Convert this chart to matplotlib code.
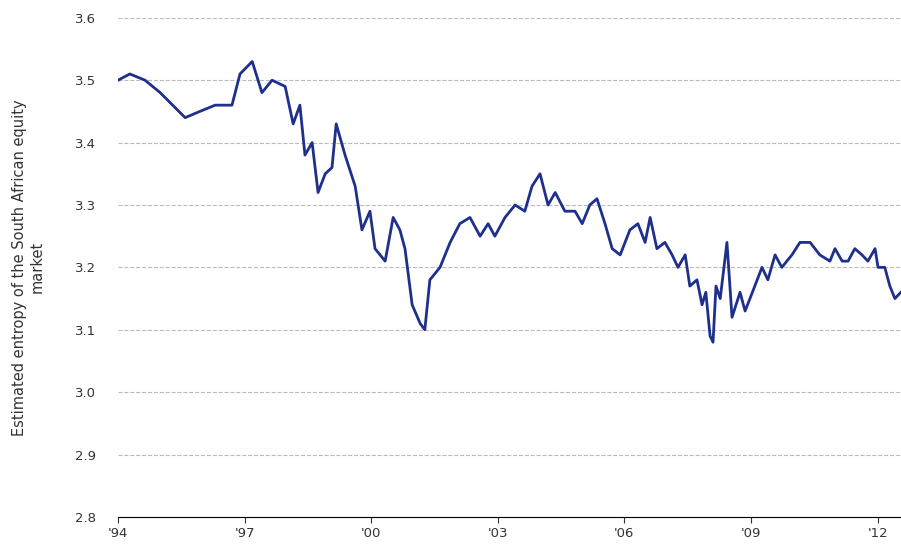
import matplotlib.pyplot as plt

years = [0, 0.28, 0.64, 1.0, 1.59, 1.94, 2.30, 2.70, 2.89, 3.18, 3.41, 3.65, 3.96, 4.15, 4.31, 4.43,
         4.60, 4.74, 4.91, 5.07, 5.17, 5.38, 5.62, 5.78, 5.97, 6.09, 6.33, 6.52, 6.68, 6.80, 6.97,
         7.16, 7.27, 7.39, 7.63, 7.87, 8.10, 8.34, 8.58, 8.77, 8.93, 9.17, 9.41, 9.64, 9.81, 10.0,
         10.19, 10.36, 10.59, 10.83, 11.0, 11.18, 11.35, 11.54, 11.71, 11.90, 12.13, 12.32, 12.49,
         12.61, 12.77, 12.96, 13.13, 13.27, 13.44, 13.55, 13.72, 13.84, 13.93, 14.03, 14.10, 14.17,
         14.27, 14.43, 14.55, 14.74, 14.86, 15.09, 15.26, 15.40, 15.57, 15.73, 15.97, 16.16, 16.40,
         16.63, 16.87, 16.99, 17.16, 17.30, 17.46, 17.63, 17.77, 17.94, 18.01, 18.17, 18.29, 18.41, 18.55]
entropy = [3.50, 3.51, 3.50, 3.48, 3.44, 3.45, 3.46, 3.46, 3.51, 3.53, 3.48, 3.50, 3.49, 3.43, 3.46, 3.38,
           3.40, 3.32, 3.35, 3.36, 3.43, 3.38, 3.33, 3.26, 3.29, 3.23, 3.21, 3.28, 3.26, 3.23, 3.14,
           3.11, 3.10, 3.18, 3.20, 3.24, 3.27, 3.28, 3.25, 3.27, 3.25, 3.28, 3.30, 3.29, 3.33, 3.35,
           3.30, 3.32, 3.29, 3.29, 3.27, 3.30, 3.31, 3.27, 3.23, 3.22, 3.26, 3.27, 3.24,
           3.28, 3.23, 3.24, 3.22, 3.20, 3.22, 3.17, 3.18, 3.14, 3.16, 3.09, 3.08, 3.17,
           3.15, 3.24, 3.12, 3.16, 3.13, 3.17, 3.20, 3.18, 3.22, 3.20, 3.22, 3.24, 3.24,
           3.22, 3.21, 3.23, 3.21, 3.21, 3.23, 3.22, 3.21, 3.23, 3.20, 3.20, 3.17, 3.15, 3.16]
x = [1994 + y for y in years]
tick_years = [1994, 1997, 2000, 2003, 2006, 2009, 2012]
tick_labels = ["'94", "'97", "'00", "'03", "'06", "'09", "'12"]

fig = plt.figure(figsize=(9.01, 5.57), dpi=100)
ax = fig.add_axes([0.131, 0.072, 0.869, 0.896])
ax.plot(x, entropy, color='#1f2f8c', lw=2)

ax.set_xlim(1994, 1994 + (901 - 118) / 42.2)
ax.set_ylim(2.8, 3.6)
ax.set_yticks([2.8, 2.9, 3.0, 3.1, 3.2, 3.3, 3.4, 3.5, 3.6])
ax.set_xticks(tick_years)
ax.set_xticklabels(tick_labels)
ax.grid(axis='y', linestyle='--', color='#bbbbbb', lw=0.8)
ax.set_axisbelow(True)
for s in ['top', 'right', 'left']:
    ax.spines[s].set_visible(False)
ax.spines['bottom'].set_color('black')
ax.tick_params(axis='y', length=0, labelsize=9.5, colors='#333333', pad=16)
ax.tick_params(axis='x', length=4, labelsize=9.5, colors='#333333')
ax.set_ylabel('Estimated entropy of the South African equity\nmarket', fontsize=10.5,
              color='#333333', labelpad=22)

fig.savefig('out.png')
